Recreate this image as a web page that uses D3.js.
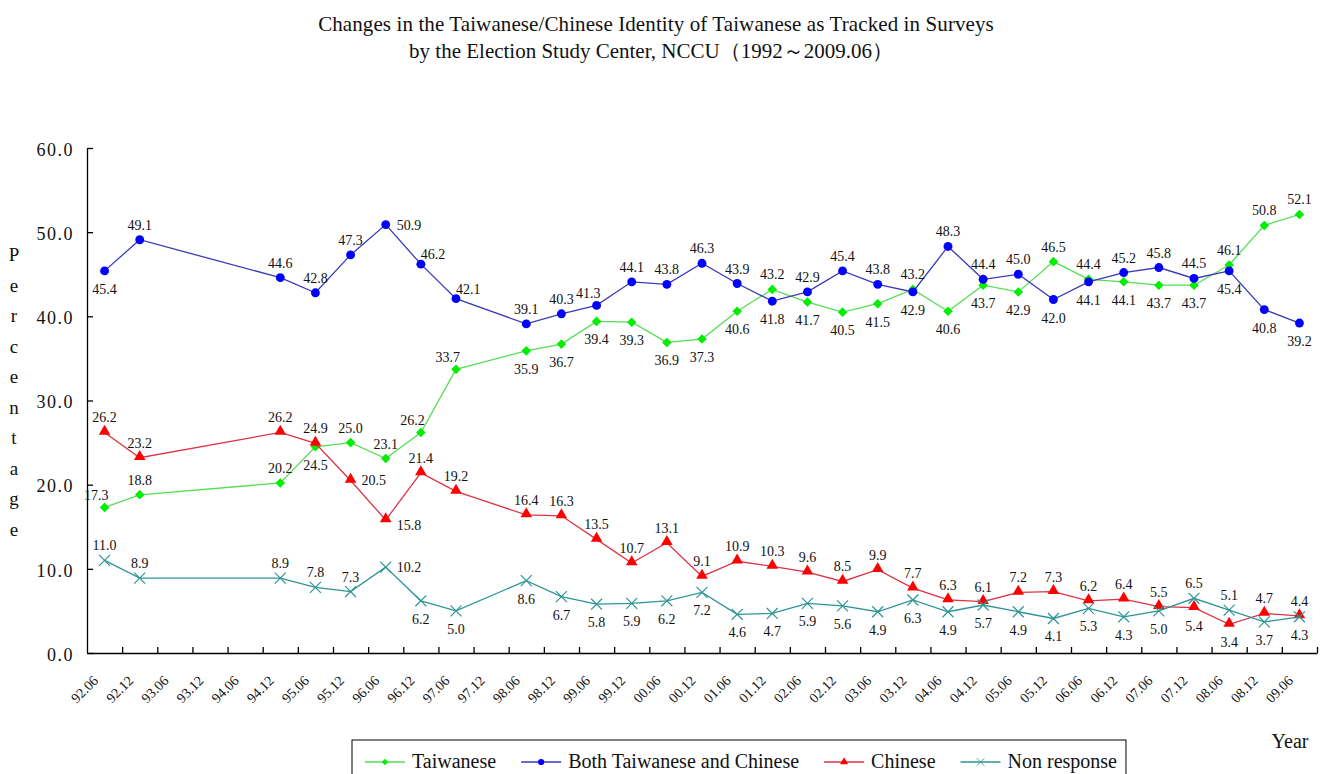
<!DOCTYPE html>
<html lang="en">
<head>
<meta charset="utf-8">
<title>Taiwanese/Chinese Identity</title>
<script src="https://cdn.jsdelivr.net/npm/d3@7"></script>
<style>
	body {
		margin: 0;
		padding: 0;
		background: #fff;
	}

	svg {
		display: block;
	}

	text {
		font-family: "Liberation Serif", "Times New Roman", serif;
		fill: #111;
	}

	.axis path,
	.axis line {
		stroke: #000;
		stroke-width: 1.3;
	}

	.pt-label {
		font-size: 14px;
	}
</style>
</head>
<body>
<div id="chart"></div>
<script>

	// Survey periods on the x axis (yy.mm)
	var periods = ["92.06", "92.12", "93.06", "93.12", "94.06", "94.12", "95.06", "95.12",
		"96.06", "96.12", "97.06", "97.12", "98.06", "98.12", "99.06", "99.12", "00.06",
		"00.12", "01.06", "01.12", "02.06", "02.12", "03.06", "03.12", "04.06", "04.12",
		"05.06", "05.12", "06.06", "06.12", "07.06", "07.12", "08.06", "08.12", "09.06"];

	// Periods that actually have a survey
	var surveyed = ["92.06", "92.12", "94.12", "95.06", "95.12", "96.06", "96.12", "97.06",
		"98.06", "98.12", "99.06", "99.12", "00.06", "00.12", "01.06", "01.12", "02.06",
		"02.12", "03.06", "03.12", "04.06", "04.12", "05.06", "05.12", "06.06", "06.12",
		"07.06", "07.12", "08.06", "08.12", "09.06"];

	var taiwanese = [17.3, 18.8, 20.2, 24.5, 25.0, 23.1, 26.2, 33.7, 35.9, 36.7, 39.4, 39.3,
		36.9, 37.3, 40.6, 43.2, 41.7, 40.5, 41.5, 43.2, 40.6, 43.7, 42.9, 46.5, 44.4, 44.1,
		43.7, 43.7, 46.1, 50.8, 52.1];
	var both = [45.4, 49.1, 44.6, 42.8, 47.3, 50.9, 46.2, 42.1, 39.1, 40.3, 41.3, 44.1,
		43.8, 46.3, 43.9, 41.8, 42.9, 45.4, 43.8, 42.9, 48.3, 44.4, 45.0, 42.0, 44.1, 45.2,
		45.8, 44.5, 45.4, 40.8, 39.2];
	var chinese = [26.2, 23.2, 26.2, 24.9, 20.5, 15.8, 21.4, 19.2, 16.4, 16.3, 13.5, 10.7,
		13.1, 9.1, 10.9, 10.3, 9.6, 8.5, 9.9, 7.7, 6.3, 6.1, 7.2, 7.3, 6.2, 6.4, 5.5, 5.4,
		3.4, 4.7, 4.4];
	var nonResponse = [11.0, 8.9, 8.9, 7.8, 7.3, 10.2, 6.2, 5.0, 8.6, 6.7, 5.8, 5.9, 6.2,
		7.2, 4.6, 4.7, 5.9, 5.6, 4.9, 6.3, 4.9, 5.7, 4.9, 4.1, 5.3, 4.3, 5.0, 6.5, 5.1, 3.7, 4.3];

	var yTicks = [0, 10, 20, 30, 40, 50, 60];

	// where each value label sits: a above, b below, r right, rb right-low, ar above-right, l above-left
	var taiwanesePos = ["l", "a", "a", "b", "a", "a", "l", "l", "b", "b", "b", "b", "b", "b", "b",
		"a", "b", "b", "b", "a", "b", "b", "b", "a", "a", "b", "b", "b", "a", "a", "a"];
	var bothPos = ["b", "a", "a", "a", "a", "r", "ar", "ar", "a", "a", "l", "a", "a", "a", "a",
		"b", "a", "a", "a", "b", "a", "a", "a", "b", "b", "a", "a", "a", "b", "b", "b"];
	var chinesePos = ["a", "a", "a", "a", "r", "rb", "a", "a", "a", "a", "a", "a", "a", "a", "a",
		"a", "a", "a", "a", "a", "a", "a", "a", "a", "a", "a", "a", "b", "b", "a", "a"];
	var nonResponsePos = ["a", "a", "a", "a", "a", "r", "b", "b", "b", "b", "b", "b", "b", "b", "b",
		"b", "b", "b", "b", "b", "b", "b", "b", "b", "b", "b", "b", "a", "a", "b", "b"];

	var series = [
		{ name: "Taiwanese", values: taiwanese, pos: taiwanesePos, line: "#55de55", fill: "#00ee00", shape: "diamond" },
		{ name: "Both Taiwanese and Chinese", values: both, pos: bothPos, line: "#3a3ab8", fill: "#0000ff", shape: "circle" },
		{ name: "Chinese", values: chinese, pos: chinesePos, line: "#dd3344", fill: "#ff0000", shape: "triangle" },
		{ name: "Non response", values: nonResponse, pos: nonResponsePos, line: "#2e9494", fill: "#2e9494", shape: "x" }
	];

	var width = 1325, height = 774;
	var margin = { top: 148, right: 8, bottom: 121, left: 87 };

	var svg = d3.select("#chart").append("svg")
		.attr("width", width)
		.attr("height", height);

	var x = d3.scaleBand()
		.domain(periods)
		.range([margin.left, width - margin.right]);
	var xEdge = d3.scaleLinear()
		.domain([0, periods.length])
		.range([margin.left, width - margin.right]);
	var y = d3.scaleLinear()
		.domain([0, 60])
		.range([height - margin.bottom, margin.top]);

	// Title
	var title = svg.append("g").attr("text-anchor", "middle").style("font-size", "21px");
	title.append("text").attr("x", 656).attr("y", 31)
		.style("letter-spacing", "0.1px")
		.text("Changes in the Taiwanese/Chinese Identity of Taiwanese as Tracked in Surveys");
	title.append("text").attr("x", 651).attr("y", 58)
		.text("by the Election Study Center, NCCU（1992～2009.06）");

	// Y axis
	var yAxis = svg.append("g")
		.attr("class", "axis")
		.attr("transform", "translate(" + margin.left + ",0)")
		.call(d3.axisLeft(y).tickValues(yTicks).tickFormat(d3.format(".1f"))
			.tickSizeInner(-6).tickSizeOuter(0).tickPadding(13));
	yAxis.attr("font-family", null).attr("font-size", null);
	yAxis.selectAll("text").style("font-size", "18px").style("letter-spacing", "1.5px")
		.attr("dy", "0.4em");

	// X axis: labels at the centre of each period, ticks between periods
	var xAxis = svg.append("g")
		.attr("class", "axis")
		.attr("transform", "translate(0," + (height - margin.bottom) + ")")
		.call(d3.axisBottom(x).tickSize(0).tickSizeOuter(0));
	xAxis.attr("font-family", null).attr("font-size", null);
	xAxis.selectAll("text")
		.style("font-size", "14px")
		.attr("y", 0)
		.attr("dy", "0.35em")
		.attr("text-anchor", "end")
		.attr("transform", "translate(-9,25) rotate(-45)");

	svg.append("g")
		.attr("class", "axis")
		.attr("transform", "translate(0," + (height - margin.bottom) + ")")
		.call(d3.axisBottom(xEdge).tickValues(d3.range(1, periods.length + 1))
			.tickSize(-6).tickFormat(""))
		.select(".domain").remove();

	// Vertical "Percentage" label, one letter per line
	svg.append("g").selectAll("text")
		.data("Percentage".split(""))
		.join("text")
		.attr("x", 14)
		.attr("y", function (d, i) { return 261 + i * 30.5; })
		.attr("text-anchor", "middle")
		.style("font-size", "19px")
		.text(function (d) { return d; });

	svg.append("text")
		.attr("x", 1290).attr("y", 748)
		.attr("text-anchor", "middle")
		.style("font-size", "20px")
		.text("Year");

	// Markers
	function markerPath(shape) {
		if (shape === "diamond") return d3.symbol(d3.symbolSquare, 46)();
		if (shape === "circle") return d3.symbol(d3.symbolCircle, 62)();
		if (shape === "triangle") return d3.symbol(d3.symbolTriangle, 58)();
		return d3.symbol(d3.symbolX, 80)();
	}

	function drawMarker(g, s) {
		var p = g.append("path").attr("d", markerPath(s.shape));
		if (s.shape === "x") {
			p.attr("fill", "none").attr("stroke", s.fill).attr("stroke-width", 1.2);
		} else {
			p.attr("fill", s.fill);
		}
		if (s.shape === "diamond") p.attr("transform", "rotate(45)");
		if (s.shape === "triangle") p.attr("transform", "translate(0,-1)");
		return p;
	}

	var line = d3.line()
		.x(function (d) { return x(d.period) + x.bandwidth() / 2; })
		.y(function (d) { return y(d.value); });

	series.forEach(function (s) {
		s.points = surveyed.map(function (p, i) {
			return { period: p, value: s.values[i], pos: s.pos[i] };
		});

		svg.append("path")
			.datum(s.points)
			.attr("fill", "none")
			.attr("stroke", s.line)
			.attr("stroke-width", 1.3)
			.attr("d", line);

		svg.append("g").selectAll("g")
			.data(s.points)
			.join("g")
			.attr("transform", function (d) {
				return "translate(" + (x(d.period) + x.bandwidth() / 2) + "," + y(d.value) + ")";
			})
			.each(function () { drawMarker(d3.select(this), s); });
	});

	// Value labels
	var offsets = {
		a: { dx: 0, dy: -10, anchor: "middle" },
		b: { dx: 0, dy: 23, anchor: "middle" },
		r: { dx: 11, dy: 5, anchor: "start" },
		rb: { dx: 11, dy: 10, anchor: "start" },
		ar: { dx: 0, dy: -5, anchor: "start" },
		l: { dx: 4, dy: -7, anchor: "end" }
	};

	series.forEach(function (s) {
		svg.append("g").selectAll("text")
			.data(s.points)
			.join("text")
			.attr("class", "pt-label")
			.attr("x", function (d) { return x(d.period) + x.bandwidth() / 2 + offsets[d.pos].dx; })
			.attr("y", function (d) { return y(d.value) + offsets[d.pos].dy; })
			.attr("text-anchor", function (d) { return offsets[d.pos].anchor; })
			.text(function (d) { return d3.format(".1f")(d.value); });
	});

	// Legend
	var legend = svg.append("g").attr("transform", "translate(365,762)");
	var cursor = 0;
	series.forEach(function (s) {
		var item = legend.append("g").attr("transform", "translate(" + cursor + ",0)");
		item.append("line")
			.attr("x1", 0).attr("x2", 40)
			.attr("stroke", s.line).attr("stroke-width", 1.3);
		var m = item.append("g").attr("transform", "translate(20,0)");
		drawMarker(m, s).attr("transform", function () {
			return s.shape === "diamond" ? "rotate(45) scale(0.7)" : "scale(0.7)";
		});
		var t = item.append("text")
			.attr("x", 47).attr("y", 6)
			.style("font-size", "20px")
			.text(s.name);
		cursor += 47 + t.node().getComputedTextLength() + 25;
	});
	legend.insert("rect", ":first-child")
		.attr("x", -13).attr("y", -22)
		.attr("width", cursor - 25 + 22)
		.attr("height", 40)
		.attr("fill", "#fff")
		.attr("stroke", "#000")
		.attr("stroke-width", 1);

</script>
</body>
</html>
